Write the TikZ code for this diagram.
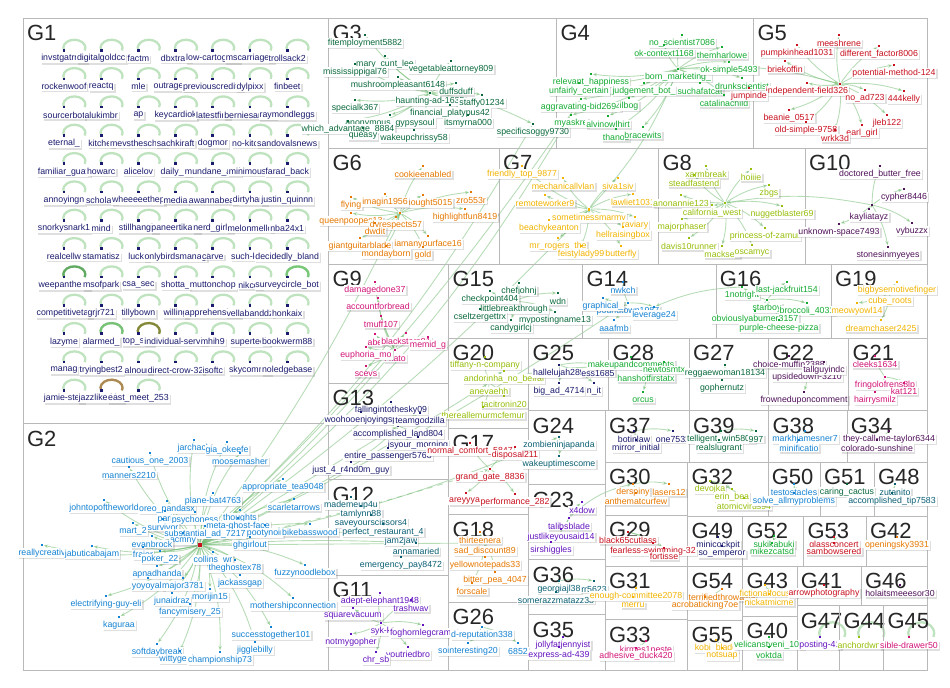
\documentclass[tikz,border=0pt]{standalone}
\usepackage{fontspec}
\setmainfont{Liberation Sans}
\usepackage{xcolor}
\usetikzlibrary{arrows.meta, shadows}
\pgfdeclarelayer{bg}
\pgfsetlayers{bg,main}

\definecolor{cNavy}{RGB}{26,26,110}
\definecolor{cBlue}{RGB}{20,130,210}
\definecolor{cDkGreen}{RGB}{10,105,60}
\definecolor{cGreen}{RGB}{20,170,50}
\definecolor{cRed}{RGB}{200,16,30}
\definecolor{cOrange}{RGB}{230,120,0}
\definecolor{cGold}{RGB}{242,180,0}
\definecolor{cLime}{RGB}{150,190,10}
\definecolor{cMagenta}{RGB}{210,20,120}
\definecolor{cPurple}{RGB}{80,18,90}
\definecolor{cViolet}{RGB}{100,20,190}
\definecolor{cTeal}{RGB}{10,95,115}
\definecolor{lnkgreen}{RGB}{110,185,110}
\definecolor{loopgreen}{RGB}{175,220,175}
\definecolor{boxgray}{RGB}{185,185,185}

\newcommand{\usr}[5]{\node[usrdot, fill=#4] (#1) at (#2,#3-8) {};
  \node[usrlab, text=#4] (#1t) at (#2,#3) {#5};}
\newcommand{\grp}[6]{\draw[grpbox] (#3,#4) rectangle (#5,#6);
  \node[grptitle] (#1) at (#3+3.5,#4+7) {#2};}
\newcommand{\members}[3]{\foreach \px/\py/\lab [count=\k] in {#3} {\usr{#1n\k}{\px}{\py}{#2}{\lab}}}
\newcommand{\spokes}[2]{\foreach \k in {2,...,#2} \draw[lnk] (#1n1) to[bend left=10] (#1n\k);}

\begin{document}
\begin{tikzpicture}[x=0.02cm, y=-0.02cm,
    grpbox/.style={draw=boxgray, line width=0.5pt},
    grptitle/.style={anchor=north west, inner sep=0pt, font=\fontsize{12.5}{13}\selectfont, text=black!85},
    usrdot/.style={rectangle, minimum size=1.5pt, inner sep=0pt},
    usrlab/.style={fill=white, inner sep=0.5pt, font=\fontsize{5}{6}\selectfont,
        drop shadow={shadow xshift=0.8pt, shadow yshift=-0.8pt, opacity=0.25}},
    lnk/.style={draw=lnkgreen, opacity=0.5, line width=0.5pt, -{Stealth[length=2.5pt, width=2pt]}},
    selfloop/.style={draw=loopgreen, line width=1.3pt, opacity=0.8}]
\useasboundingbox (0,0) rectangle (950,688);

\grp{t1}{G1}{23.3}{18.3}{328.7}{423.7}
\grp{t2}{G2}{23.3}{423.7}{328.7}{670}
\grp{t3}{G3}{328.7}{18.3}{556.7}{148}
\grp{t4}{G4}{556.7}{18.3}{753.7}{148}
\grp{t5}{G5}{753.7}{18.3}{927}{148}
\grp{t6}{G6}{328.7}{148}{499.3}{264}
\grp{t7}{G7}{499.3}{148}{658.7}{264}
\grp{t8}{G8}{658.7}{148}{805.3}{264}
\grp{t10}{G10}{805.3}{148}{927}{264}
\grp{t9}{G9}{328.7}{264}{448.7}{383.3}
\grp{t15}{G15}{448.7}{264}{582.7}{338}
\grp{t14}{G14}{582.7}{264}{716}{338}
\grp{t16}{G16}{716}{264}{831.3}{338}
\grp{t19}{G19}{831.3}{264}{927}{338}
\grp{t20}{G20}{448.7}{338}{528.7}{428}
\grp{t25}{G25}{528.7}{338}{608.7}{410.7}
\grp{t28}{G28}{608.7}{338}{689.3}{410.7}
\grp{t27}{G27}{689.3}{338}{768.7}{410.7}
\grp{t22}{G22}{768.7}{338}{848.7}{410.7}
\grp{t21}{G21}{848.7}{338}{927}{410.7}
\grp{t13}{G13}{328.7}{383.3}{448.7}{479.7}
\grp{t17}{G17}{448.7}{428}{528.7}{514.7}
\grp{t24}{G24}{528.7}{410.7}{605.3}{484.7}
\grp{t37}{G37}{605.3}{410.7}{689.3}{462}
\grp{t39}{G39}{689.3}{410.7}{768.7}{462}
\grp{t38}{G38}{768.7}{410.7}{847}{462}
\grp{t34}{G34}{847}{410.7}{927}{462}
\grp{t12}{G12}{328.7}{479.7}{448.7}{575.3}
\grp{t11}{G11}{328.7}{575.3}{448.7}{670}
\grp{t18}{G18}{448.7}{514.7}{528.7}{602}
\grp{t26}{G26}{448.7}{602}{528.7}{670}
\grp{t23}{G23}{528.7}{484.7}{605.3}{559.7}
\grp{t36}{G36}{528.7}{559.7}{605.3}{614.7}
\grp{t35}{G35}{528.7}{614.7}{605.3}{670}
\grp{t30}{G30}{605.3}{462}{687.7}{515.3}
\grp{t29}{G29}{605.3}{515.3}{687.7}{566.3}
\grp{t31}{G31}{605.3}{566.3}{687.7}{619.7}
\grp{t33}{G33}{605.3}{619.7}{687.7}{670}
\grp{t32}{G32}{687.7}{462}{768}{516.3}
\grp{t50}{G50}{768}{462}{820.3}{516.3}
\grp{t51}{G51}{820.3}{462}{874.3}{516.3}
\grp{t48}{G48}{874.3}{462}{927}{516.3}
\grp{t49}{G49}{687.7}{516.3}{742.7}{566}
\grp{t52}{G52}{742.7}{516.3}{803.7}{566}
\grp{t53}{G53}{803.7}{516.3}{866.3}{566}
\grp{t42}{G42}{866.3}{516.3}{927}{566}
\grp{t54}{G54}{687.7}{566}{742.7}{620}
\grp{t43}{G43}{742.7}{566}{797}{616.3}
\grp{t41}{G41}{797}{566}{861.3}{605.7}
\grp{t46}{G46}{861.3}{566}{927}{605.7}
\grp{t55}{G55}{687.7}{620}{742.7}{670}
\grp{t40}{G40}{742.7}{616.3}{797}{670}
\grp{t47}{G47}{797}{605.7}{839.7}{670}
\grp{t44}{G44}{839.7}{605.7}{883.7}{670}
\grp{t45}{G45}{883.7}{605.7}{927}{670}

\foreach \lab [count=\i from 0] in {invstgatrres, digitalgoldcc, factm, dbxtran, low-cartograp, mscarriage\_, trollsack2,
    rockenwoof, reactq, mle, outrageous, previouscredit8, dylpixx, finbeet,
    sourcerbot, alukimbr, ap, keycardiok, latestfire, berniesander, raymondleggs,
    eternal\_, kitcher, mevstheschoo, sachkiraft, dogmor, no-kitche, sandovalsnews,
    familiar\_guav, howarc, alicelov, daily\_in, mundane\_aml, minimouse, farad\_back,
    annoyingn, scholan, wheeeeethep, media, awannabeat, dirtyharri, justin\_quinnn,
    snorkysnark1, mind, stillhangin, paneertikam, nerd\_girl\_, melonmello, nba24x1,
    realcellw, stamatisz, lucky, onlybirdsmanag, carve, such-lobs, decidedly\_bland,
    weepantherd, msofpark, csa\_sec, shotta\_, muttonchop, nikcor, surveycircle\_bot,
    competitivetar, grjr721, tillybown, willing, apprehensive-, vellabanddz, honkaix,
    lazyme, alarmed\_, top\_squ, individual-servic, mhih9, supertech, bookwerm88,
    manag, tryingbest2, alnourr, direct-crow-32, isoftc, skycomma, noledgebase,
    jamie-stev, jazzlike-kitc, east\_meet\_253} {
  \pgfmathtruncatemacro\col{mod(\i,7)}
  \pgfmathtruncatemacro\row{\i/7}
  \usr{g1n\i}{64+37.2*\col}{58.5+28.33*\row}{cNavy}{\lab}
}

\node[usrdot, fill=cRed, minimum size=2.5pt] (g2hub) at (200,545) {};
\members{g2}{cBlue}{194/448/jarchack, 227/450/gia\_okeefe, 240/461/moosemasher, 150/461/cautious\_one\_2003,
  129/475/manners2210, 283/487/appropriate\_tea9048, 104/508/johntopoftheworld, 167/509/oreo\_pandasx,
  213/501/plane-bat4763, 294/507/scarletarrows, 165/519/pari, 195/520/psychoness, 240/518/thoughts,
  238/526/meta-ghost-face, 133/531/mart\_2, 163/527/survivor, 205/534/substantial\_ad\_7217,
  265/533/pootynoir, 310/532/bikebasswood, 183/541/acmny, 152/544/evanbrock, 250/545/ghgirlout,
  42/553/reallycreativ, 92/554/jabuticabajam, 143/555/frajer, 160/559/poker\_22, 213/560/collins\_wr,
  235/568/theghostex78, 157/574/apnadhanda, 305/573/fuzzynoodlebox, 148/586/yoyoyak, 183/586/major3781,
  240/583/jackassgap, 210/597/morijin15, 172/601/junaidraz, 106/604/electrifying-guy-eli,
  293/606/mothershipconnection, 190/612/fancymisery\_25, 119/625/kaguraa, 271/635/successtogether101,
  255/650/jigglebilly, 157/652/softdaybreak, 180/659/wittygeeky, 220/660/championship73}

\members{g3}{cDkGreen}{430/101/haunting-ad-1635, 365/43/fitemployment5882, 385/64/mary\_cunt\_lee,
  451/69/vegetableattorney809, 355/72/mississippigal76, 398/85/mushroompleasant6148, 456/91/duffsduff,
  482/103/staffy01234, 355/108/specialk367, 450/113/financial\_platypus42, 390/123/anonymous\_gypsysoul,
  348/129/which\_advantage\_8884, 468/123/itsmyrna000, 363/136/queasy, 414/138/wakeupchrissy58,
  533/132/specificsoggy9730}

\members{g4}{cGreen}{678/77/born\_marketing\_, 682/43/no\_scientist7086, 664/53/ok-context1168,
  722/55/themharlowe, 591/82/relevant\_happiness, 729/70/ok-simple5493, 579/91/unfairly\_certain,
  644/91/judgement\_bot\_, 700/91/suchafatcat, 742/86/drunkscientist, 724/103/catalinachild,
  581/107/aggravating-bid2694, 629/106/ilbog, 571/123/myaskre, 608/124/alvinowlhirt, 616/137/thanos,
  643/135/bracewits}

\node[usrdot, fill=cRed] (g5hub) at (840,84) {};
\members{g5}{cRed}{839/43/meeshrene, 797/53/pumpkinhead1031, 879/54/different\_factor8006, 785/69/briekoffin,
  894/73/potential-method-124, 807/91/independent-field326, 749/96/jumpinde, 865/98/no\_ad723,
  904/99/444kelly, 789/118/beanie\_0517, 887/123/jleb122, 806/130/old-simple-9758, 862/133/earl\_girl,
  835/138/wrkk3d}

\node[usrdot, fill=cOrange] (g6hub) at (400,213) {};
\members{g6}{cOrange}{423/174/cookieenabled, 351/205/flying, 423/203/al-thought5015, 385/202/imagin1956,
  471/200/zro553r, 465/217/highlightfun8419, 351/221/queenpoopes13, 396/225/dyrespects57, 375/231/dwdit,
  360/246/giantguitarblade, 428/244/iamanyourface16, 386/254/mondayborn, 423/255/gold}

\node[usrdot, fill=cGold] (g7hub) at (589,209) {};
\members{g7}{cGold}{522/174/friendly\_top\_9877, 563/186/mechanicallvlan, 618/186/siva1siv,
  545/203/remoteworker9, 633/202/lawliet1031, 589/218/sometimessmarmy, 549/228/beachykeanton,
  635/225/raviary, 623/235/hellraisingbox, 558/246/mr\_rogers\_the, 581/254/feistylady99, 621/254/butterfly}

\node[usrdot, fill=cLime] (g8hub) at (725,203) {};
\members{g8}{cLime}{706/174/xarmbreak, 694/183/steadfastend, 751/177/hoiiie, 769/193/zbgs,
  681/203/anonannie123, 712/213/california\_west, 782/214/nuggetblaster69, 682/227/majorphaser,
  765/236/princess-of-zamur, 689/246/davis10runner, 722/254/macksen, 752/253/oscamyc}

\node[usrdot, fill=cPurple] (g10hub) at (872,205) {};
\members{g10}{cPurple}{880/174/doctored\_butter\_free, 904/197/cypher8446, 869/217/kayliatayz,
  839/232/unknown-space7493, 912/231/vybuzzx, 888/255/stonesinmyeyes}

\members{g9}{cMagenta}{395/358/l-kato, 375/290/damagedone37, 378/306/accountforbread, 381/324/tmuff107,
  375/342/abe, 406/341/blackstars91, 428/345/memid\_g, 366/355/euphoria\_mo, 366/374/scevs}
\members{g15}{cDkGreen}{514/309/littlebreakthrough, 519/291/chefjohnj, 490/299/checkpoint404, 558/301/wdn,
  480/317/cseltzergettrx, 555/320/mypostingname13, 511/328/candygirlcj}
\members{g14}{cBlue}{628/311/poundtown1987, 623/290/nwkch, 603/306/graphical\_, 654/315/leverage24,
  614/328/aaafmb}
\members{g16}{cGreen}{767/308/starboy, 742/295/1notright, 787/290/last-jackfruit154, 807/311/broccoli\_4031,
  755/319/obviouslyaburner3157, 779/328/purple-cheese-pizza}
\members{g19}{cGold}{890/301/cube\_roots, 897/290/bigbysemotivefinger, 857/311/meowyowl14,
  881/328/dreamchaser2425}
\members{g20}{cLime}{489/391/anevaehh, 485/365/tiffany-n-company, 504/379/andorinha\_no\_beiral,
  504/404/tacitronin20, 483/415/thereallemurmcfemur}
\members{g25}{cNavy}{559/373/hallelujah289, 598/373/ess1685, 559/391/big\_ad\_4714, 594/391/n\_it}
\members{g28}{cGreen}{646/378/hanshotfirstatx, 631/365/makeupandcomments, 664/370/newtosmtx, 643/400/orcus}
\members{g27}{cDkGreen}{725/373/reggaewoman18134, 722/388/gophernutz}
\members{g22}{cPurple}{807/377/upsidedown-3210, 789/364/choice-muffin2388, 824/370/tallguyindc,
  804/400/frowneduponcomment}
\members{g21}{cMagenta}{885/385/fringolofrens8lp, 875/364/cleeks1634, 904/391/kat121, 875/400/hairrysmilz}
\members{g13}{cNavy}{398/434/accomplished\_land804, 391/410/fallingintothesky09, 361/420/woohooenjoyingsp,
  420/421/teamgodzilla, 418/445/isyour\_morning, 388/456/entire\_passenger5768, 351/470/just\_4\_r4nd0m\_guy}
\members{g17}{cRed}{490/477/grand\_gate\_8836, 470/451/normal\_comfort\_5847, 515/455/disposal211,
  466/501/areyyyar, 515/502/performance\_282}
\members{g24}{cTeal}{559/445/zombieninjapanda, 559/464/wakeuptimescome}
\members{g37}{cNavy}{634/439/botinlaw, 673/439/one7532, 636/448/mirror\_initial}
\members{g39}{cDkGreen}{721/439/telligent\_win5803, 756/439/997, 719/448/realslugrant}
\members{g38}{cBlue}{805/439/markhjamesner7, 799/448/minificatio}
\members{g34}{cPurple}{889/439/they-call-me-taylor6344, 877/448/colorado-sunshine}
\members{g12}{cTeal}{401/541/jam2jaw, 351/505/mademeup4u, 361/514/tamlynn88, 371/523/saveyourscissors4,
  383/532/perfect\_restaurant\_4, 416/551/annamaried, 401/565/emergency\_pay8472}
\members{g11}{cViolet}{381/631/syk-k, 380/601/adept-elephant1948, 411/608/trashwav, 353/616/squarevacuum,
  423/633/foghornlegcramp, 351/642/notmygopher, 408/655/youtriedbro, 376/660/chr\_sb}
\members{g18}{cOrange}{485/551/sad\_discount89, 480/540/thirteenera, 485/565/yellownotepads33,
  495/580/bitter\_pea\_4047, 472/591/forscale}
\members{g26}{cBlue}{482/635/d-reputation338, 468/651/sointeresting20, 518/651/6852}
\members{g23}{cViolet}{569/526/talibsblade, 582/510/x4dow, 561/537/justlikeyousaid14, 551/550/sirshiggles}
\members{g36}{cTeal}{559/589/georgiajl38, 594/589/rr5623, 556/600/somerazzmatazz38}
\members{g35}{cViolet}{563/645/jollyfatjennyist, 559/655/express-ad-439}
\members{g30}{cOrange}{633/492/derspiny, 669/492/lasers12, 636/501/anthematcurfew}
\members{g29}{cRed}{628/540/black65cutlass, 653/551/fearless-swimming-32, 664/556/fortisse}
\members{g31}{cGold}{636/596/enough-committee2078, 633/605/merru}
\members{g33}{cMagenta}{646/649/kirmes1neste, 636/656/adhesive\_duck420}
\members{g32}{cLime}{710/489/devojka, 732/497/erin\_bea, 744/506/atomicvirus94}
\members{g50}{cBlue}{794/492/testostacles, 794/501/solve\_allmyproblems}
\members{g51}{cDkGreen}{847/492/caring\_cactus}
\members{g48}{cTeal}{895/492/zutanito, 892/501/accomplished\_tip7583}
\members{g49}{cNavy}{718/545/minicockpit, 722/554/so\_emperor}
\members{g52}{cGreen}{774/544/sukikabuki, 772/551/mikezcatsd}
\members{g53}{cRed}{834/545/glassconcert, 834/551/sambowsered}
\members{g42}{cOrange}{897/545/openingsky3931}
\members{g54}{cOrange}{722/597/terrifiedthrowawa, 705/605/acrobaticking7oe}
\members{g43}{cGold}{765/593/fictionalfocus, 769/602/nickatmicme}
\members{g41}{cRed}{824/593/arrowphotography}
\members{g46}{cPurple}{900/593/holaitsmeeesor30}
\members{g55}{cGold}{716/648/kobi\_blade, 722/656/notsuap}
\members{g40}{cGreen}{769/645/velicanstveni\_101, 769/655/voktda}
\members{g47}{cViolet}{820/645/posting-41}
\members{g44}{cLime}{859/645/anchordwn}
\members{g45}{cMagenta}{909/645/sible-drawer50}

\begin{pgfonlayer}{bg}
  \foreach \i in {0,...,86}
    \draw[selfloop] (g1n\i.center) arc[start angle=160, end angle=380, x radius=11, y radius=8];
  \draw[selfloop, draw=green!45!black!70] (g1n56.center) arc[start angle=160, end angle=380, x radius=11, y radius=8];
  \draw[selfloop, draw=green!60!black!60] (g1n62.center) arc[start angle=160, end angle=380, x radius=11, y radius=8];
  \draw[selfloop, draw=green!55!black!60] (g1n71.center) arc[start angle=160, end angle=380, x radius=11, y radius=8];
  \draw[selfloop, draw=olive!80!black] (g1n72.center) arc[start angle=160, end angle=380, x radius=11, y radius=8];
  \draw[selfloop, draw=brown!90!black] (g1n85.center) arc[start angle=160, end angle=380, x radius=11, y radius=8];
  \foreach \g in {g47n1, g44n1, g45n1}
    \draw[selfloop] (\g.center) arc[start angle=160, end angle=380, x radius=13, y radius=11];

  \foreach \k in {1,...,44} \draw[lnk] (g2hub) to[bend left=12] (g2n\k);
  \foreach \k in {1,...,14} \draw[lnk] (g5hub) to[bend left=10] (g5n\k);
  \foreach \k in {1,...,13} \draw[lnk] (g6hub) to[bend left=10] (g6n\k);
  \foreach \k in {1,...,12} \draw[lnk] (g7hub) to[bend left=10] (g7n\k);
  \foreach \k in {1,...,12} \draw[lnk] (g8hub) to[bend left=10] (g8n\k);
  \foreach \k in {1,...,6} \draw[lnk] (g10hub) to[bend left=10] (g10n\k);
  \spokes{g3}{16}
  \spokes{g4}{17}
  \spokes{g9}{9}
  \spokes{g15}{7}
  \spokes{g14}{5}
  \spokes{g16}{6}
  \spokes{g19}{4}
  \spokes{g20}{5}
  \spokes{g25}{4}
  \spokes{g28}{4}
  \spokes{g27}{2}
  \spokes{g22}{4}
  \spokes{g21}{4}
  \spokes{g13}{7}
  \spokes{g17}{5}
  \spokes{g24}{2}
  \spokes{g37}{3}
  \spokes{g39}{3}
  \spokes{g38}{2}
  \spokes{g34}{2}
  \spokes{g12}{7}
  \spokes{g11}{8}
  \spokes{g18}{5}
  \spokes{g26}{3}
  \spokes{g23}{4}
  \spokes{g36}{3}
  \spokes{g35}{2}
  \spokes{g30}{3}
  \spokes{g29}{3}
  \spokes{g31}{2}
  \spokes{g33}{2}
  \spokes{g32}{3}
  \spokes{g50}{2}
  \spokes{g48}{2}
  \spokes{g49}{2}
  \spokes{g52}{2}
  \spokes{g53}{2}
  \spokes{g54}{2}
  \spokes{g43}{2}
  \spokes{g55}{2}
  \spokes{g40}{2}

  \draw[lnk] (g2hub) to[bend right=8] (g3n16);
  \draw[lnk] (g2hub) to[bend right=10] (g4n14);
  \draw[lnk] (g2hub) to[bend right=6] (g4n12);
  \draw[lnk] (g2hub) to[bend right=5] (g7hub);
  \draw[lnk] (g2hub) to[bend right=5] (g6hub);
  \draw[lnk] (g2hub) to[bend right=4] (g9n1);
  \draw[lnk] (g2hub) to[bend right=4] (g14n1);
  \draw[lnk] (g2hub) to[bend left=5] (g12n1);
  \draw[lnk] (g2hub) to[bend left=3] (g12n6);
  \draw[lnk, dashed] (g2hub) to[bend right=3] (g17n1);
  \draw[lnk] (g2hub) to (g18n1);
  \draw[lnk] (g2hub) to[bend right=3] (g20n1);
  \draw[lnk] (g2hub) to (g13n1);
  \draw[lnk] (g2hub) to[bend right=6] (g24n1);
  \draw[lnk] (g20n1) to[bend left=10] (g28n1);
  \draw[lnk] (g7hub) to[bend right=10] (g4n1);
  \draw[lnk] (g4n1) to[bend left=10] (g5hub);
  \draw[lnk] (g10hub) to[bend right=10] (g8hub);
  \draw[lnk] (g16n2) to[bend right=10] (g14n4);
  \draw[lnk] (g23n1) to[bend left=15] (g30n1);
\end{pgfonlayer}
\end{tikzpicture}
\end{document}
